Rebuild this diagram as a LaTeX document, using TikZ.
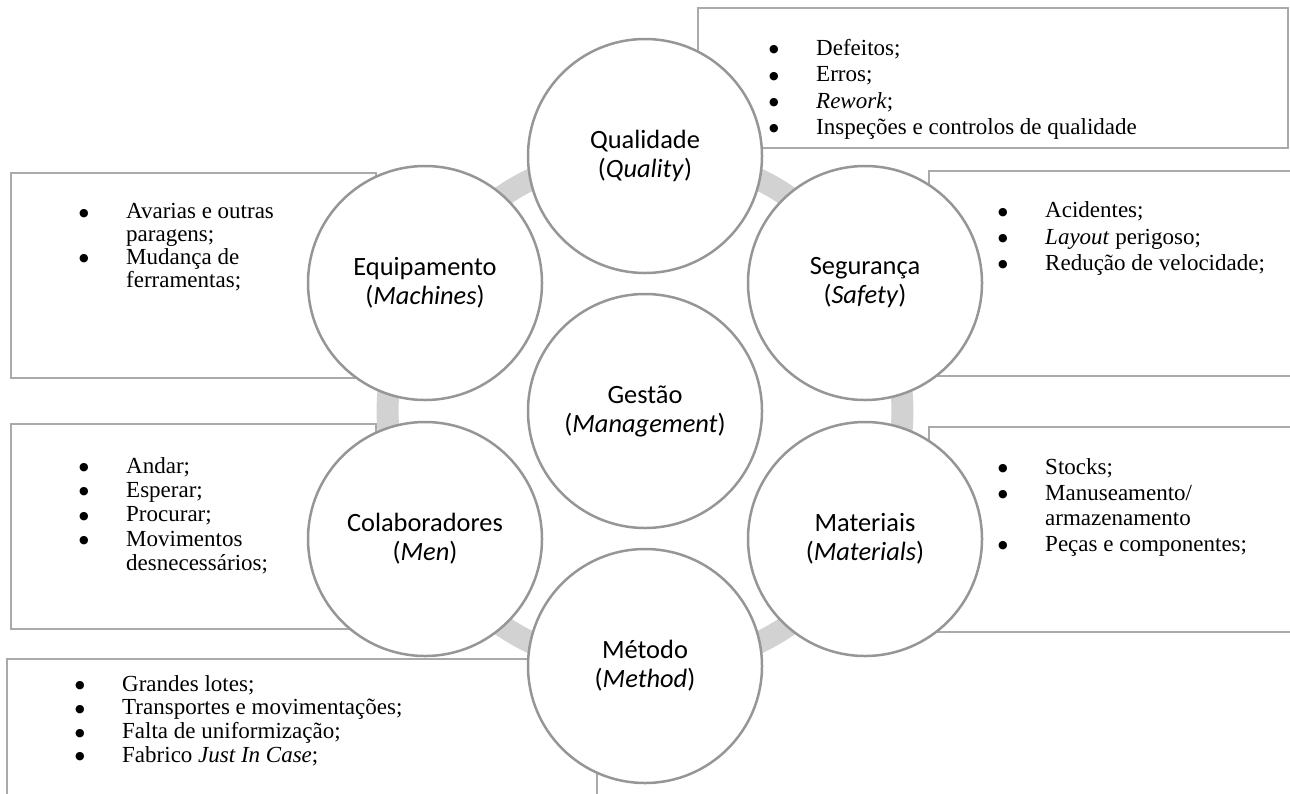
\documentclass[tikz,border=0pt]{standalone}
\usepackage{fontspec}
\setmainfont{Liberation Serif}
\newfontfamily\circfont{Carlito}
\newfontfamily\simbfont{DejaVu Sans}
\usepackage{tikz}
\usetikzlibrary{backgrounds}
\definecolor{LinhaCirculo}{RGB}{150,150,150}
\definecolor{LinhaCaixa}{RGB}{170,170,170}
\definecolor{CinzaAnel}{RGB}{210,210,210}
\newcommand{\bl}{\makebox[47pt][l]{\raisebox{2.6pt}{\simbfont\fontsize{11}{11}\selectfont ●}}}

\begin{document}
\begin{tikzpicture}[x=1pt, y=1pt,
  circulo/.style={draw=LinhaCirculo, line width=2.5pt, fill=white, circle, minimum size=234pt, inner sep=0pt, align=center, font=\circfont\fontsize{26.4}{29}\selectfont},
  caixa/.style={draw=LinhaCaixa, line width=1.8pt, rectangle, anchor=north west, inner sep=0pt},
  lista/.style={anchor=north west, inner sep=0pt, font=\fontsize{23}{#1}\selectfont},
  anel/.style={draw=CinzaAnel, line width=22pt}]
\useasboundingbox (0,0) rectangle (1290,-793);

% circulos
\node[circulo] (gestao) at (645,-411) {Gestão\\(\textit{Management})};
\node[circulo] (qual) at (645,-156) {Qualidade\\(\textit{Quality})};
\node[circulo] (seg) at (865,-283) {Segurança\\(\textit{Safety})};
\node[circulo] (mat) at (865,-539) {Materiais\\(\textit{Materials})};
\node[circulo] (met) at (645,-666) {Método\\(\textit{Method})};
\node[circulo] (colab) at (425,-539) {Colaboradores\\(\textit{Men})};
\node[circulo] (equip) at (425,-283) {Equipamento\\(\textit{Machines})};

\begin{scope}[on background layer]
% caixas
\node[caixa, minimum width=590pt, minimum height=140pt] (bqual) at (697,-7) {};
\node[caixa, minimum width=365pt, minimum height=205pt] (bequip) at (10,-172) {};
\node[caixa, minimum width=380pt, minimum height=205pt] (bseg) at (928,-170) {};
\node[caixa, minimum width=365pt, minimum height=205pt] (bcolab) at (10,-423) {};
\node[caixa, minimum width=380pt, minimum height=205pt] (bmat) at (928,-426) {};
\node[caixa, minimum width=590pt, minimum height=160pt] (bmet) at (6,-658) {};
% anel
\foreach \a/\b in {qual/seg, seg/mat, mat/met, met/colab, colab/equip, equip/qual}
  \draw[anel] (\a.center) to[bend left=30] (\b.center);
\end{scope}

% listas
\node[lista=26.3] (lqual) at (769,-36.9) {\begin{tabular}{@{}l@{}l@{}}
\bl & Defeitos;\\
\bl & Erros;\\
\bl & \textit{Rework};\\
\bl & Inspeções e controlos de qualidade\end{tabular}};
\node[lista=22.8] (lequip) at (79,-202.7) {\begin{tabular}{@{}l@{}l@{}}
\bl & Avarias e outras\\
    & paragens;\\
\bl & Mudança de\\
    & ferramentas;\end{tabular}};
\node[lista=26.3] (lseg) at (998,-199.3) {\begin{tabular}{@{}l@{}l@{}}
\bl & Acidentes;\\
\bl & \textit{Layout} perigoso;\\
\bl & Redução de velocidade;\end{tabular}};
\node[lista=24.3] (lcolab) at (79,-456) {\begin{tabular}{@{}l@{}l@{}}
\bl & Andar;\\
\bl & Esperar;\\
\bl & Procurar;\\
\bl & Movimentos\\
    & desnecessários;\end{tabular}};
\node[lista=25.5] (lmat) at (998,-456.5) {\begin{tabular}{@{}l@{}l@{}}
\bl & Stocks;\\
\bl & Manuseamento/\\
    & armazenamento\\
\bl & Peças e componentes;\end{tabular}};
\node[lista=23.7] (lmet) at (75,-674.4) {\begin{tabular}{@{}l@{}l@{}}
\bl & Grandes lotes;\\
\bl & Transportes e movimentações;\\
\bl & Falta de uniformização;\\
\bl & Fabrico \textit{Just In Case};\end{tabular}};
\end{tikzpicture}
\end{document}
